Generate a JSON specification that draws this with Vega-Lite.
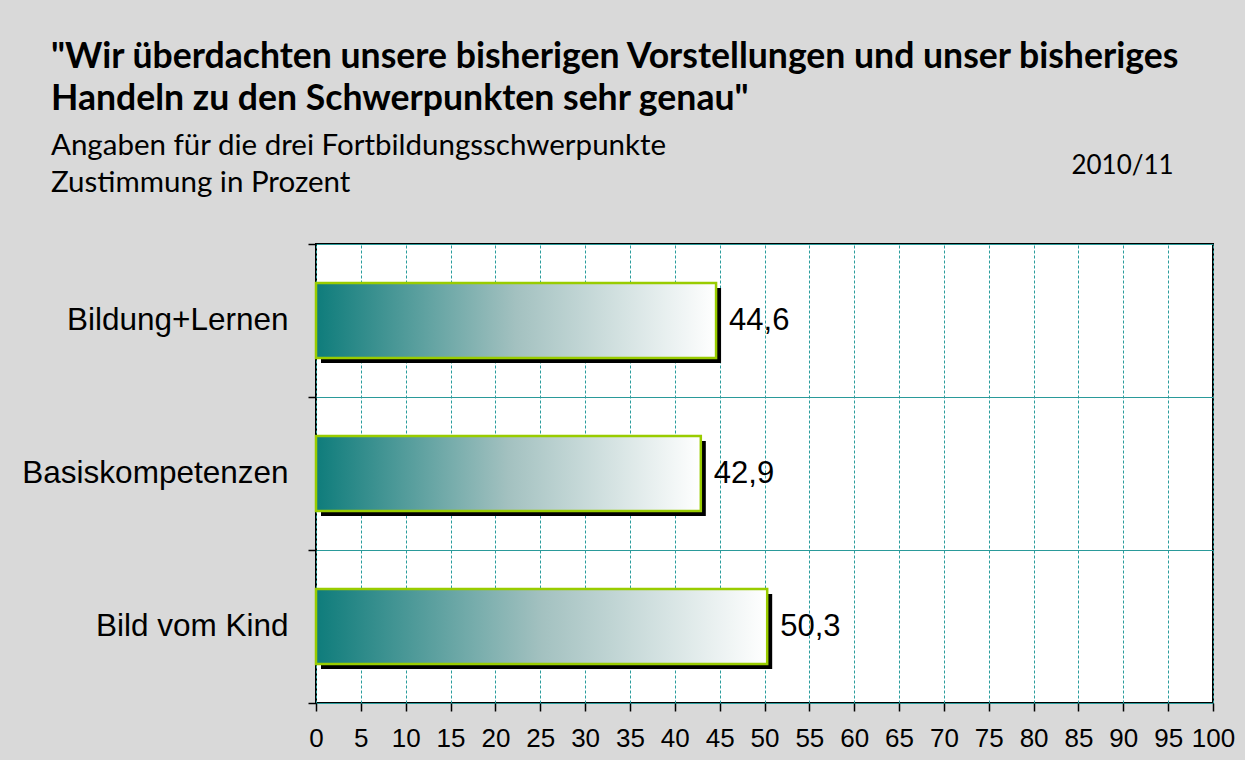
{
  "$schema": "https://vega.github.io/schema/vega-lite/v6.json",
  "width": 897,
  "height": 459,
  "autosize": "none",
  "padding": {"left": 316, "top": 244, "right": 32, "bottom": 57},
  "background": "#d9d9d9",
  "config": {
    "locale": {"number": {"decimal": ",", "thousands": ".", "grouping": [3], "currency": ["", " €"]}},
    "view": {"stroke": "black", "strokeWidth": 2, "fill": "white"}
  },
  "title": {
    "text": ["\u2005\"Wir überdachten unsere bisherigen Vorstellungen und unser bisheriges", "Handeln zu den Schwerpunkten sehr genau\""],
    "subtitle": ["Angaben für die drei Fortbildungsschwerpunkte", "Zustimmung in Prozent"],
    "anchor": "start",
    "frame": "group",
    "dx": -265,
    "dy": 90,
    "offset": 45,
    "font": "Lato",
    "fontSize": 35.6,
    "fontWeight": "bold",
    "lineHeight": 42,
    "color": "black",
    "subtitleFont": "Lato",
    "subtitleFontSize": 29.5,
    "subtitleLineHeight": 37,
    "subtitleColor": "black",
    "subtitlePadding": 14
  },
  "data": {
    "values": [
      {"Schwerpunkt": "Bildung+Lernen", "Wert": 44.6},
      {"Schwerpunkt": "Basiskompetenzen", "Wert": 42.9},
      {"Schwerpunkt": "Bild vom Kind", "Wert": 50.3}
    ]
  },
  "encoding": {
    "y": {
      "field": "Schwerpunkt",
      "type": "nominal",
      "sort": null,
      "scale": {"paddingInner": 0, "paddingOuter": 0},
      "axis": {
        "title": "2010/11",
        "titleAngle": 0,
        "titleX": 806,
        "titleY": -79,
        "titleAlign": "center",
        "titleBaseline": "middle",
        "titleFont": "Lato",
        "titleFontSize": 26,
        "titleFontWeight": "normal",
        "titleColor": "black",
        "labelFont": "Liberation Sans",
        "labelFontSize": 31.5,
        "labelColor": "black",
        "labelPadding": 20,
        "labelLimit": 400,
        "tickBand": "extent",
        "tickSize": 8,
        "tickColor": "black",
        "tickWidth": 1.5,
        "domain": false,
        "grid": true,
        "gridColor": "#2a9a9a",
        "gridWidth": 1
      }
    },
    "x": {
      "field": "Wert",
      "type": "quantitative",
      "scale": {"domain": [0, 100], "nice": false},
      "axis": {
        "title": null,
        "values": [0, 5, 10, 15, 20, 25, 30, 35, 40, 45, 50, 55, 60, 65, 70, 75, 80, 85, 90, 95, 100],
        "labelFont": "Liberation Sans",
        "labelFontSize": 26,
        "labelColor": "black",
        "labelPadding": 14,
        "labelFlush": false,
        "labelOverlap": false,
        "format": "d",
        "tickSize": 8,
        "tickColor": "black",
        "tickWidth": 1.5,
        "domain": false,
        "grid": true,
        "gridColor": "#2a9d9d",
        "gridDash": [3, 2],
        "gridWidth": 1
      }
    }
  },
  "layer": [
    {
      "mark": {"type": "bar", "color": "black", "height": {"band": 0.49}, "xOffset": 5, "x2Offset": 5, "yOffset": 5, "y2Offset": 5}
    },
    {
      "mark": {
        "type": "bar",
        "height": {"band": 0.49},
        "stroke": "#99cc00",
        "strokeWidth": 2.5,
        "fill": {
          "gradient": "linear",
          "x1": 0, "y1": 0, "x2": 1, "y2": 0,
          "stops": [
            {"offset": 0, "color": "#0e7c7b"},
            {"offset": 0.5, "color": "#a3c1c0"},
            {"offset": 1, "color": "#ffffff"}
          ]
        }
      }
    },
    {
      "mark": {"type": "text", "align": "left", "baseline": "middle", "dx": 13, "font": "Liberation Sans", "fontSize": 31, "color": "black"},
      "encoding": {"text": {"field": "Wert", "type": "quantitative", "format": ".1f"}}
    }
  ]
}
